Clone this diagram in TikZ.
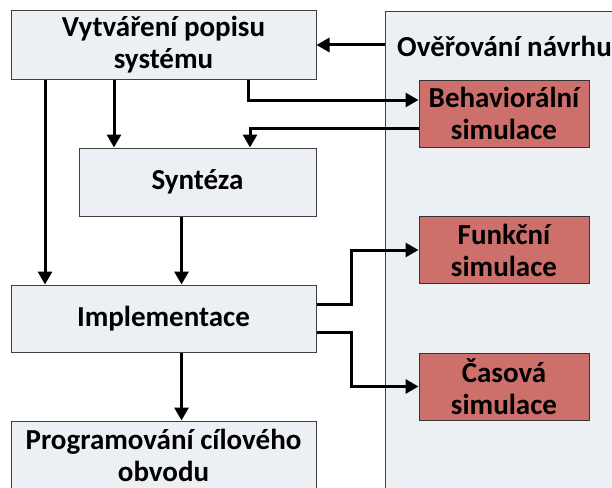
\documentclass[tikz,border=0pt]{standalone}
\usepackage{fontspec}
\setmainfont{Carlito}
\usetikzlibrary{positioning,calc,arrows.meta}
\definecolor{boxgray}{HTML}{ECEFF4}
\definecolor{boxred}{HTML}{CD6F6A}
\definecolor{edgegray}{HTML}{404040}

\begin{document}
\begin{tikzpicture}[
    x=1pt, y=-1pt,
    gray_box/.style={draw=edgegray,line width=1pt,fill=boxgray,align=center,
        font=\fontsize{29}{32}\selectfont\bfseries,inner sep=0pt},
    red_box/.style={draw=black!80,line width=1pt,fill=boxred,align=center,
        font=\fontsize{29}{32}\selectfont\bfseries,inner sep=0pt,
        minimum width=170pt,minimum height=67pt},
    arrow_line/.style={line width=3pt,-{Triangle[length=13pt,width=14pt]}},
    plain_line/.style={line width=3pt}
]
\useasboundingbox (0,0) rectangle (612,487);

% Verification panel on the right
\node[gray_box,anchor=north west,minimum width=260pt,minimum height=500pt] (overeni) at (385,11) {};
\node[font=\fontsize{29}{32}\selectfont\bfseries] (nadpis) at (504.5,46) {Ověřování návrhu};

% Design flow
\node[gray_box,minimum width=305pt,minimum height=68pt] (popis) at (163.5,45) {Vytváření popisu\\systému};
\node[gray_box,minimum width=237pt,minimum height=68pt] (synteza) at (197.5,182) {Syntéza};
\node[gray_box,minimum width=305pt,minimum height=67pt] (impl) at (163.5,318.5) {Implementace};
\node[gray_box,minimum width=305pt,minimum height=68pt] (prog) at (163.5,455) {Programování cílového\\obvodu};

% Simulations
\node[red_box] (beh) at (504,113.5) {Behaviorální\\simulace};
\node[red_box] (funk) at (504,250) {Funkční\\simulace};
\node[red_box] (cas) at (504,386.5) {Časová\\simulace};

% Connections
\draw[arrow_line] (overeni.west |- popis.east) -- (popis.east);
\draw[arrow_line] ([xshift=84.5pt]popis.south) |- ([yshift=13.5pt]beh.west);
\draw[arrow_line] ([yshift=-14.5pt]beh.west) -| ([xshift=52.5pt]synteza.north);
\draw[arrow_line] ([xshift=-83.5pt]synteza.north |- popis.south) -- ([xshift=-83.5pt]synteza.north);
\draw[arrow_line] ([xshift=-118.5pt]popis.south) -- ([xshift=-118.5pt]impl.north);
\draw[arrow_line] ([xshift=-16pt]synteza.south) -- ([xshift=18pt]impl.north);
\draw[arrow_line] ([yshift=14.5pt]impl.east) -- ++(35,0) |- (funk.west);
\draw[arrow_line] ([yshift=-13.5pt]impl.east) -- ++(35,0) |- (cas.west);
\draw[arrow_line] ([xshift=18pt]impl.south) -- ([xshift=18pt]prog.north);

\end{tikzpicture}
\end{document}
